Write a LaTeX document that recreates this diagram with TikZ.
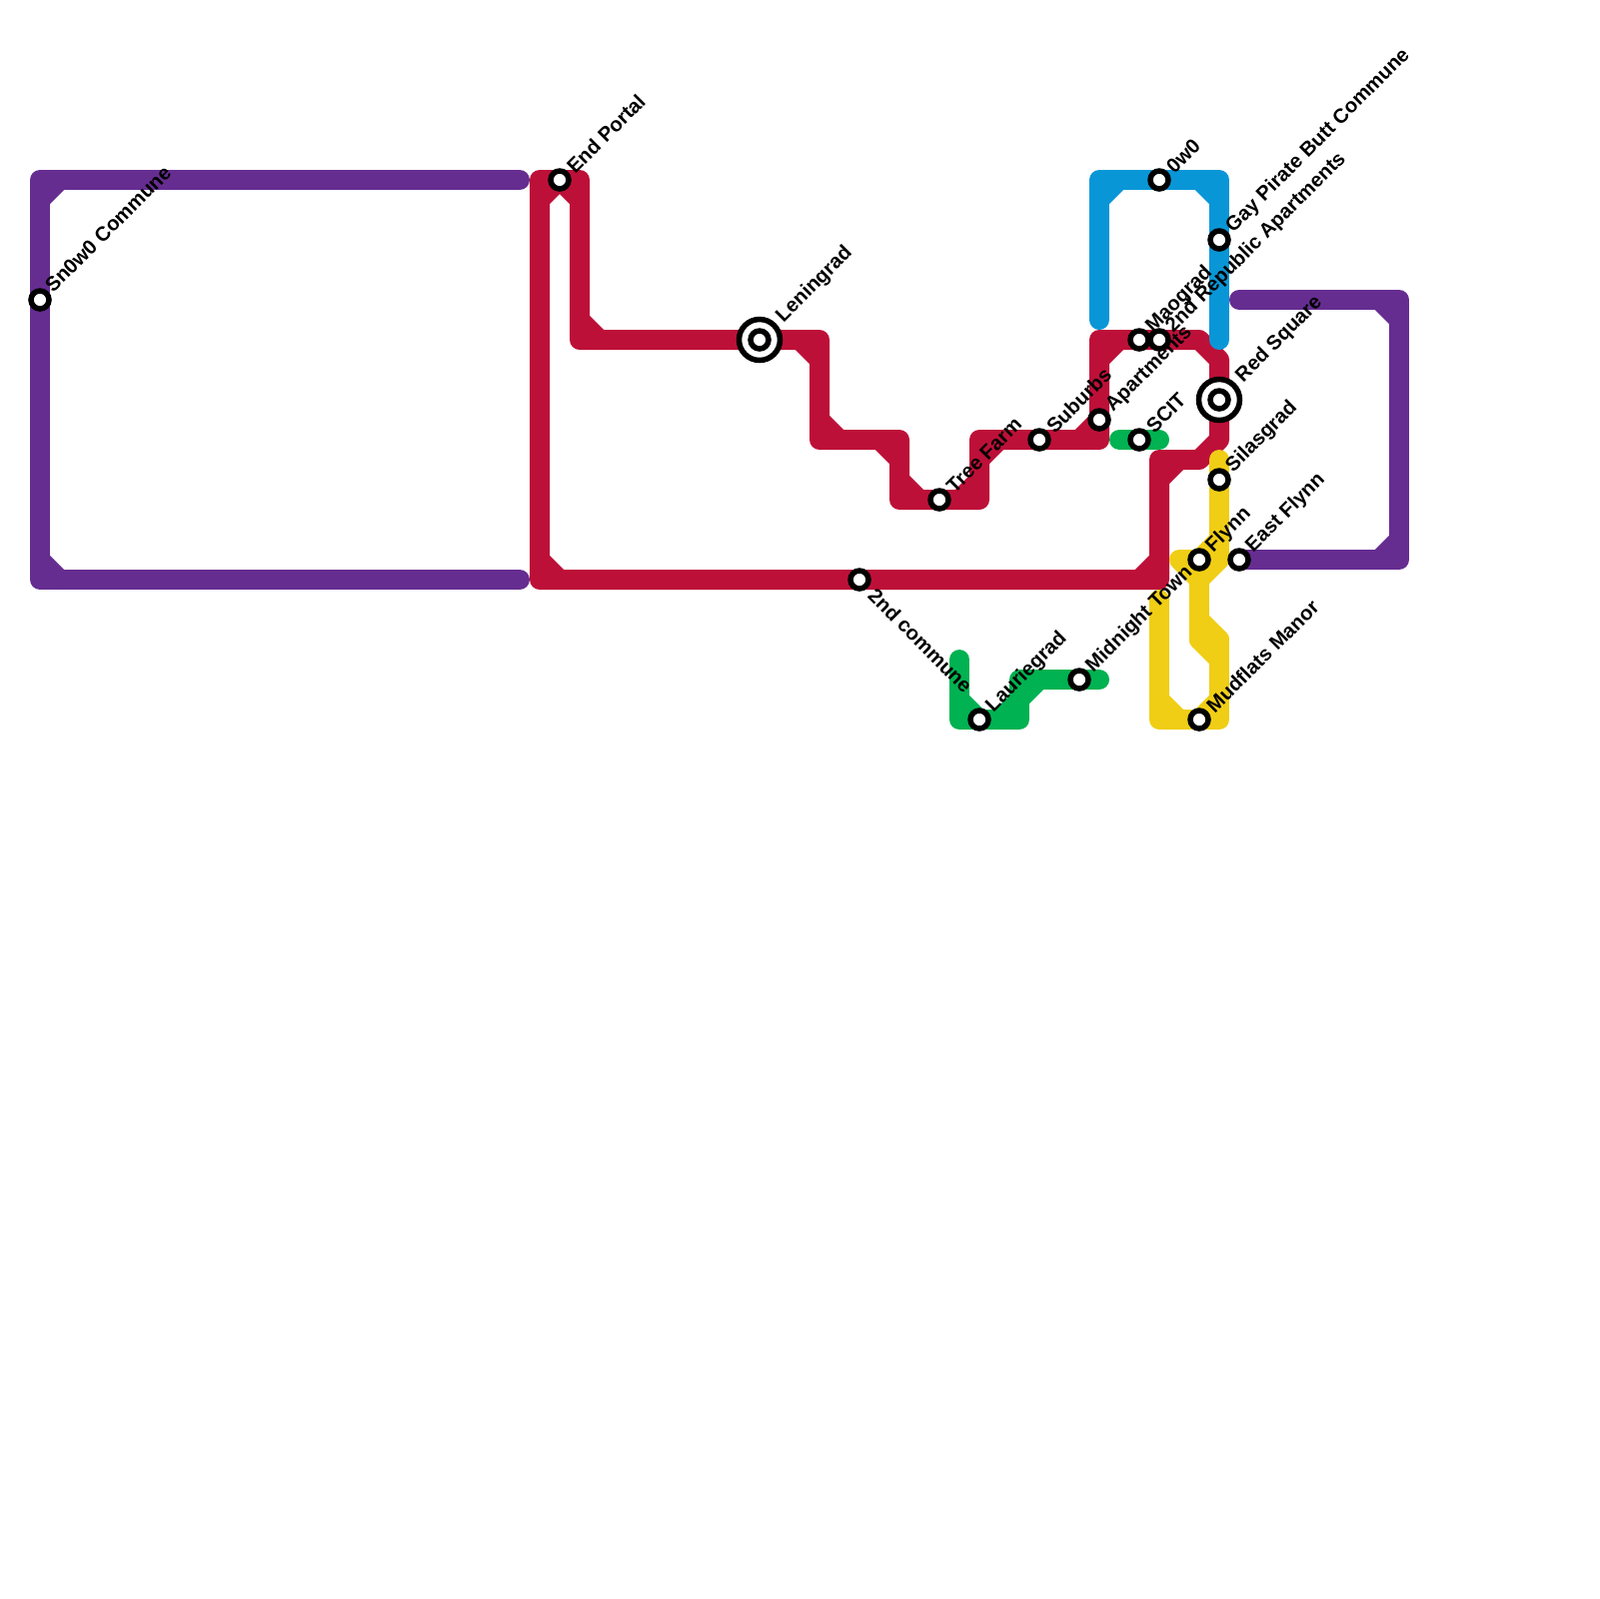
\documentclass[tikz,border=0pt]{standalone}
\usepackage{fontspec}
\setmainfont{Liberation Sans}
\usetikzlibrary{backgrounds}
\definecolor{c1}{RGB}{102,45,145}
\definecolor{c2}{RGB}{189,16,56}
\definecolor{c3}{RGB}{9,150,215}
\definecolor{c4}{RGB}{0,178,81}
\definecolor{c5}{RGB}{240,206,21}
\begin{document}
\begin{tikzpicture}[
  x=0.1mm, y=-0.1mm,
  metro/.style={line width=2mm, line cap=round, line join=round},
  purpleline/.style={metro, draw=c1},
  redline/.style={metro, draw=c2},
  blueline/.style={metro, draw=c3},
  greenline/.style={metro, draw=c4},
  yellowline/.style={metro, draw=c5},
  stop/.style={circle, draw=black, fill=white, line width=0.55mm, minimum size=1.8mm, inner sep=0pt},
  hub/.style={stop, minimum size=4.1mm},
  lbl/.style={font=\bfseries\fontsize{5.75}{7}\selectfont, anchor=west, inner sep=0pt},
  lblup/.style={lbl, rotate=45},
  lbldown/.style={lbl, rotate=-45},
]
\useasboundingbox (0,0) rectangle (1600,1600);

%% Stations
\node[stop] (snow)      at (40,300)   {};
\node[stop] (endportal) at (560,180)  {};
\node[hub]  (leningradring) at (760,340) {};
\node[stop] (leningrad) at (760,340)  {};
\node[stop] (commune)   at (860,580)  {};
\node[stop] (treefarm)  at (940,500)  {};
\node[stop] (laurie)    at (980,720)  {};
\node[stop] (suburbs)   at (1040,440) {};
\node[stop] (midnight)  at (1080,680) {};
\node[stop] (apart)     at (1100,420) {};
\node[stop] (scit)      at (1140,440) {};
\node[stop] (maograd)   at (1140,340) {};
\node[stop] (republic)  at (1160,340) {};
\node[stop] (owo)       at (1160,180) {};
\node[stop] (flynn)     at (1200,560) {};
\node[stop] (mudflats)  at (1200,720) {};
\node[stop] (gaypirate) at (1220,240) {};
\node[hub]  (redsquarering) at (1220,400) {};
\node[stop] (redsquare) at (1220,400) {};
\node[stop] (silas)     at (1220,480) {};
\node[stop] (eastflynn) at (1240,560) {};

%% Labels
\node[lblup] (tsnow)      at (48,289)   {Sn0w0 Commune};
\node[lblup] (tendportal) at (570,170)  {End Portal};
\node[lblup] (tleningrad) at (780,320)  {Leningrad};
\node[lbldown] (tcommune) at (872,592)  {2nd commune};
\node[lblup] (ttreefarm)  at (950,490)  {Tree Farm};
\node[lblup] (tlaurie)    at (990,710)  {Lauriegrad};
\node[lblup] (tsuburbs)   at (1050,430) {Suburbs};
\node[lblup] (tmidnight)  at (1090,670) {Midnight Town};
\node[lblup] (tapart)     at (1110,410) {Apartments};
\node[lblup] (tscit)      at (1150,430) {SCIT};
\node[lblup] (tmaograd)   at (1150,330) {Maograd};
\node[lblup] (trepublic)  at (1170,330) {2nd Republic Apartments};
\node[lblup] (towo)       at (1170,170) {0w0};
\node[lblup] (tflynn)     at (1210,550) {Flynn};
\node[lblup] (tmudflats)  at (1210,710) {Mudflats Manor};
\node[lblup] (tgaypirate) at (1230,230) {Gay Pirate Butt Commune};
\node[lblup] (tredsquare) at (1240,380) {Red Square};
\node[lblup] (tsilas)     at (1230,470) {Silasgrad};
\node[lblup] (teastflynn) at (1250,550) {East Flynn};

\begin{scope}[on background layer]
%% Purple lines
\draw[purpleline] (520,180) -- (40,180) -- (snow.center) -- (40,580) -- (520,580);
\draw[purpleline] (40,200) -- (60,180) (40,560) -- (60,580);
\draw[purpleline] (1240,300) -- (1400,300) -- (1400,560) -- (eastflynn.center);
\draw[purpleline] (1380,300) -- (1400,320) (1380,560) -- (1400,540);

%% Red line
\draw[redline] (endportal.center) -- (540,180) -- (540,580) -- (commune.center) -- (1160,580) -- (1160,460) -- (1200,460)
  -- (1220,440) -- (redsquare.center) -- (1220,360) -- (1200,340) -- (republic.center) -- (maograd.center) -- (1100,340)
  -- (apart.center) -- (1100,440) -- (suburbs.center) -- (980,440) -- (980,500) -- (treefarm.center) -- (900,500) -- (900,440)
  -- (820,440) -- (820,340) -- (leningrad.center) -- (580,340) -- (580,180) -- (endportal.center);
\draw[redline] (540,200) -- (560,180) -- (580,200) (540,560) -- (560,580) (1140,580) -- (1160,560);
\draw[redline] (1160,480) -- (1180,460) (1100,360) -- (1120,340) (1080,440) -- (1100,420);
\draw[redline] (980,460) -- (1000,440) (960,500) -- (980,480) (900,480) -- (920,500);
\draw[redline] (880,440) -- (900,460) (820,420) -- (840,440) (800,340) -- (820,360) (580,320) -- (600,340);

%% Yellow line
\draw[yellowline] (1160,600) -- (1160,720) -- (mudflats.center) -- (1220,720) -- (1220,640) -- (1200,640) -- (1200,560) -- (1220,560) -- (silas.center) -- (1220,460);
\draw[yellowline] (1180,560) -- (flynn.center) (1180,560) -- (1200,580) -- (1220,560) (flynn.center) -- (1220,540);
\draw[yellowline] (1200,620) -- (1220,640) (1200,640) -- (1220,660);
\draw[yellowline] (1160,700) -- (1180,720) (1200,720) -- (1220,700);

%% Blue line
\draw[blueline] (1100,320) -- (1100,180) -- (owo.center) -- (1220,180) -- (gaypirate.center) -- (1220,340);
\draw[blueline] (1100,200) -- (1120,180) (1200,180) -- (1220,200);

%% Green lines
\draw[greenline] (960,660) -- (960,720) -- (laurie.center) -- (1020,720) -- (1020,680) -- (midnight.center) -- (1100,680);
\draw[greenline] (960,700) -- (980,720) (1000,720) -- (1020,700) (1020,700) -- (1040,680);
\draw[greenline] (1120,440) -- (scit.center) -- (1160,440);
\end{scope}
\end{tikzpicture}
\end{document}
